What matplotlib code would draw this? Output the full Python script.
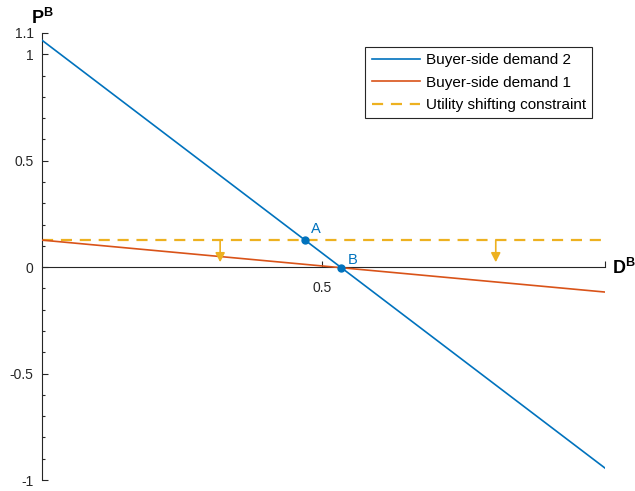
import numpy as np
import matplotlib
matplotlib.use("Agg")
import matplotlib.pyplot as plt
from matplotlib.ticker import FixedLocator, MultipleLocator

plt.rcParams['font.family'] = ['Liberation Sans', 'DejaVu Sans']
plt.rcParams['mathtext.fontset'] = 'custom'
plt.rcParams['mathtext.rm'] = 'Liberation Sans'
plt.rcParams['mathtext.bf'] = 'Liberation Sans:bold'

# Demand curves and constraint, defined by their end points
x_ends = [0.0, 1.005]
demand2 = [1.066, -0.944]
demand1 = [0.127, -0.117]
constraint = [0.127, 0.127]

# Shift arrows (x position, start level, end level)
arrow_x = [0.318, 0.81]
arrow_from = 0.127
arrow_to = 0.023

y_major = [-1, -0.5, 0, 0.5, 1, 1.1]
y_major_labels = ['-1', '-0.5', '0', '0.5', '1', '1.1']

blue = '#0072BD'
red = '#D95319'
yellow = '#EDB120'
axis_col = '#262626'

fig = plt.figure(figsize=(6.35, 4.91), dpi=100)
ax = fig.add_axes([42/635, 11/491, 563/635, 447/491])
ax.set_xlim(x_ends[0], x_ends[1])
ax.set_ylim(-1, 1.1)

ax.plot(x_ends, demand2, color=blue, lw=1.2, label='Buyer-side demand 2', zorder=3)
ax.plot(x_ends, demand1, color=red, lw=1.2, label='Buyer-side demand 1', zorder=3)
ax.plot(x_ends, constraint, color=yellow, lw=1.6, ls=(0, (5, 3.5)),
        label='Utility shifting constraint', zorder=2)

for xa in arrow_x:
    ax.annotate('', xy=(xa, arrow_to), xytext=(xa, arrow_from),
                arrowprops=dict(arrowstyle='-|>,head_length=0.55,head_width=0.28',
                                color=yellow, lw=1.2, shrinkA=0, shrinkB=0))

# Intersection points
s2 = (demand2[1] - demand2[0]) / (x_ends[1] - x_ends[0])
s1 = (demand1[1] - demand1[0]) / (x_ends[1] - x_ends[0])
xa_pt = (constraint[0] - demand2[0]) / s2
xb_pt = (demand1[0] - demand2[0]) / (s2 - s1)
yb_pt = demand2[0] + s2 * xb_pt
ax.plot([xa_pt, xb_pt], [constraint[0], yb_pt], 'o', color=blue, ms=5, zorder=4)
ax.text(xa_pt + 0.01, constraint[0] + 0.02, 'A', color=blue, fontsize=10.5, ha='left', va='bottom')
ax.text(xb_pt + 0.012, yb_pt + 0.005, 'B', color=blue, fontsize=10.5, ha='left', va='bottom')

# Axes styling
for s in ['top', 'right']:
    ax.spines[s].set_visible(False)
ax.spines['bottom'].set_position(('data', 0))
ax.spines['bottom'].set_color(axis_col)
ax.spines['left'].set_color(axis_col)
ax.spines['bottom'].set_linewidth(0.8)
ax.spines['left'].set_linewidth(0.8)

ax.set_xticks([0.5, x_ends[1]])
ax.set_xticklabels(['0.5', ''])
ax.tick_params(axis='x', direction='in', length=4, width=0.8, color=axis_col,
               labelsize=10, labelcolor=axis_col, pad=10)

ax.yaxis.set_major_locator(FixedLocator(y_major))
ax.set_yticklabels(y_major_labels)
ax.yaxis.set_minor_locator(MultipleLocator(0.1))
ax.tick_params(axis='y', which='major', direction='in', length=4, width=0.8,
               color=axis_col, labelsize=10, labelcolor=axis_col, pad=6)
ax.tick_params(axis='y', which='minor', direction='in', length=2.5, width=0.8, color=axis_col)

fig.text(31/635, 1 - 28/491, r'$\mathbf{P^B}$', fontsize=13, ha='left', va='bottom')
fig.text(612/635, 1 - 268/491, r'$\mathbf{D^B}$', fontsize=13, ha='left', va='center')

leg = ax.legend(loc='upper right', bbox_to_anchor=(592/635, 1 - 47/491),
                bbox_transform=fig.transFigure, borderaxespad=0, fontsize=11,
                handlelength=3.15, labelspacing=0.55, handletextpad=0.4,
                fancybox=False, framealpha=1, borderpad=0.4)
leg.get_frame().set_edgecolor('#262626')
leg.get_frame().set_linewidth(0.8)

fig.savefig('out.png', dpi=100)
